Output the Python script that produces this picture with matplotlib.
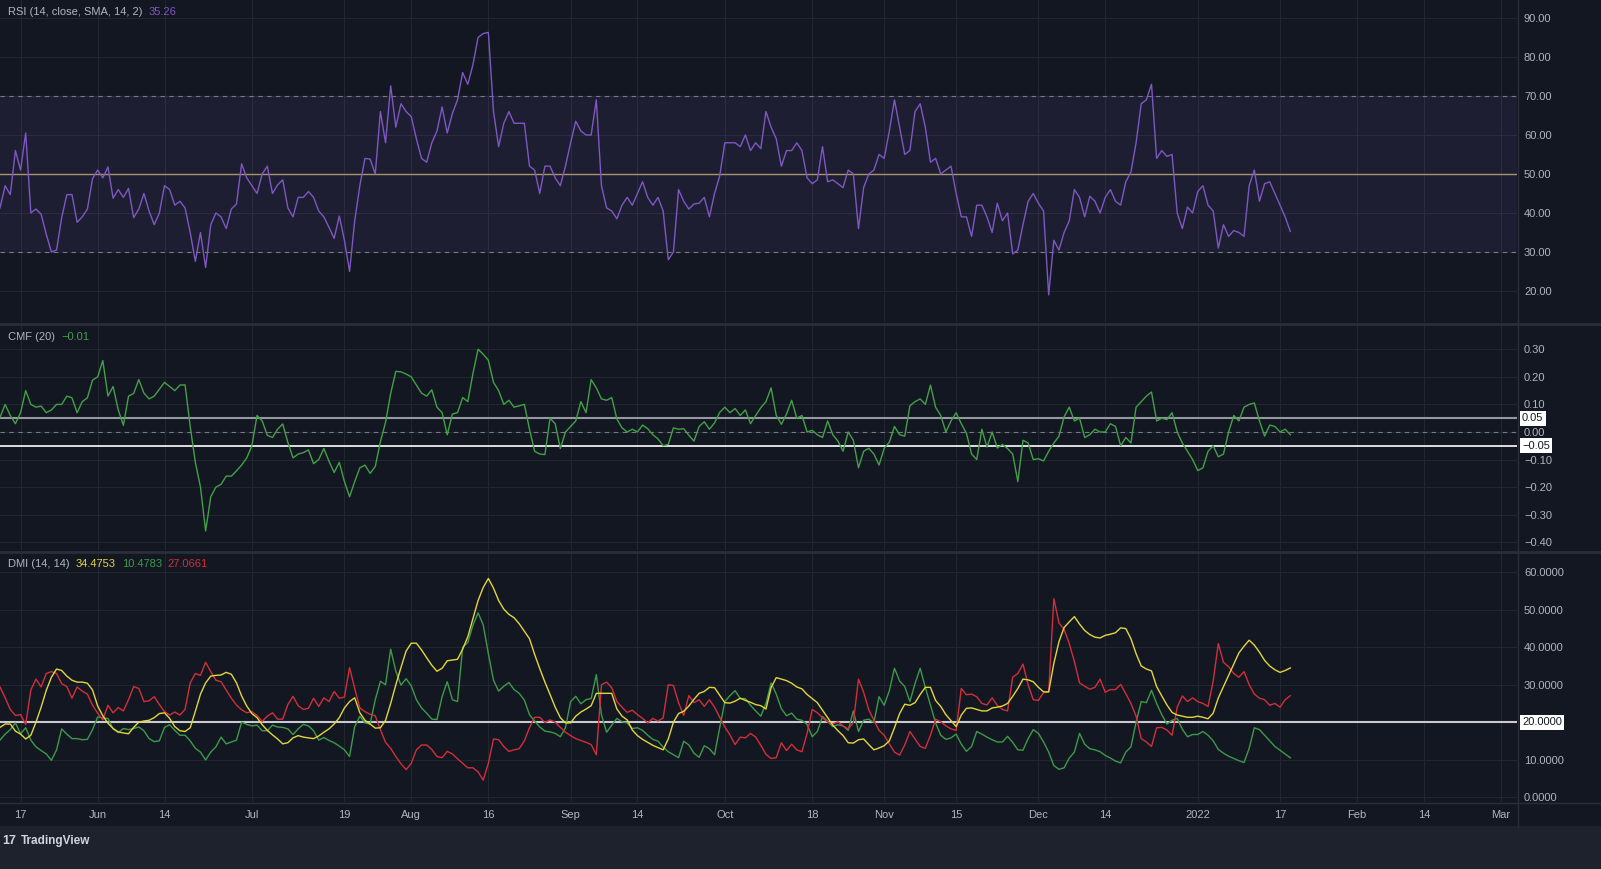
import matplotlib
matplotlib.use("Agg")
import matplotlib.pyplot as plt
import matplotlib.dates as mdates
import matplotlib.transforms as mtransforms
from matplotlib.lines import Line2D
from matplotlib.patches import Rectangle
from matplotlib.ticker import FixedLocator, FuncFormatter
import pandas as pd

plt.rcParams['font.family'] = ['Liberation Sans', 'DejaVu Sans']

# daily values, 2021-05-13 .. 2022-01-19
dates = pd.date_range("2021-05-13", periods=252, freq="D")

rsi = [41.3, 47, 44.7, 56, 51, 60.5, 40, 41, 39.7, 34.5,
       30, 30.5, 38.8, 44.7, 44.7, 37.6, 39, 41, 48.8, 51,
       49, 51.8, 43.8, 46, 44, 46.3, 38.8, 41, 45, 40.5,
       37, 40, 47, 46, 42, 43, 41.3, 35, 27.6, 35,
       26, 37, 40, 39, 36, 41, 42.3, 52.6, 49, 47,
       45, 50, 52, 45, 47.2, 48.5, 41.3, 39, 44, 44,
       45.5, 44, 40.5, 39, 36.3, 33.5, 39.2, 33, 25, 38,
       47, 54, 53.8, 50, 66, 58, 72.6, 62, 68, 66,
       64.7, 59, 54, 53, 58, 61, 67.2, 60.5, 65.5, 69,
       76, 73, 78, 85, 86, 86.3, 66, 57, 63, 66,
       63, 63, 63, 52, 51, 45, 52, 52, 49, 47,
       52, 58, 63.5, 61, 60, 60, 69, 47, 41.3, 40.5, 38.5, 42,
       44, 42, 45, 48, 44, 42, 44, 40.5, 28, 30,
       46, 43, 41, 42.3, 42.5, 44, 39, 45, 49.5, 58,
       58, 58, 57, 60, 56, 58, 56.5, 66, 62, 59,
       52, 56, 56, 58, 56, 49, 47.5, 48.5, 57, 48,
       48.5, 47.5, 46.5, 51, 50, 36, 46.5, 50, 51, 55,
       54, 61, 69, 62, 55, 56, 66, 68, 62, 53,
       54, 50, 51, 52, 45, 39, 39, 34, 42, 42,
       39, 35, 42.5, 38, 40, 29.5, 30.5, 37, 43, 45,
       42.5, 40.5, 19, 33, 30.5, 35, 38, 46, 44, 39,
       44.3, 43, 40, 44, 46, 43, 42, 48, 50.5, 58,
       68, 69, 73, 54, 56, 54.5, 55, 40, 36, 41.5,
       40, 45.5, 47, 42, 40.5, 31, 37, 34, 35.5, 35,
       34, 47, 51, 43, 47.5, 48,
       45, 42, 39, 35.26]

cmf = [0.053, 0.10, 0.06, 0.03, 0.07, 0.15, 0.10, 0.09, 0.094, 0.07,
       0.08, 0.10, 0.10, 0.13, 0.124, 0.07, 0.11, 0.124, 0.188, 0.20,
       0.259, 0.13, 0.165, 0.08, 0.024, 0.13, 0.14, 0.19, 0.141, 0.12,
       0.13, 0.155, 0.18, 0.165, 0.15, 0.17, 0.171, 0.02, -0.11, -0.20,
       -0.359, -0.235, -0.20, -0.19, -0.16, -0.16, -0.141, -0.12, -0.094, -0.05,
       0.06, 0.04, -0.012, -0.02, 0.01, 0.029, -0.038, -0.094, -0.08, -0.075,
       -0.065, -0.115, -0.10, -0.06, -0.106, -0.147, -0.11, -0.18, -0.235, -0.18,
       -0.13, -0.12, -0.15, -0.125, -0.035, 0.035, 0.14, 0.22, 0.218, 0.21,
       0.20, 0.17, 0.141, 0.13, 0.153, 0.09, 0.07, -0.01, 0.065, 0.07,
       0.125, 0.11, 0.212, 0.30, 0.282, 0.26, 0.18, 0.15, 0.10, 0.115,
       0.09, 0.095, 0.10, 0.01, -0.07, -0.08, -0.082, 0.05, 0.03, -0.06,
       0.0, 0.02, 0.04, 0.11, 0.07, 0.19, 0.16, 0.12, 0.115, 0.125, 0.047, 0.015,
       0.0, 0.01, 0.0, 0.025, 0.012, -0.01, -0.025, -0.05, -0.045, 0.015,
       0.01, 0.012, -0.012, -0.033, 0.02, 0.037, 0.01, 0.033, 0.071, 0.09,
       0.07, 0.085, 0.06, 0.08, 0.03, 0.06, 0.088, 0.11, 0.16, 0.06,
       0.028, 0.065, 0.115, 0.05, 0.06, 0.0, 0.006, -0.01, -0.02, 0.04,
       -0.01, -0.033, -0.07, 0.0, -0.03, -0.13, -0.07, -0.059, -0.08, -0.12,
       -0.059, -0.037, 0.02, -0.01, -0.015, 0.095, 0.11, 0.12, 0.10, 0.17,
       0.09, 0.06, 0.0, 0.04, 0.07, 0.03, -0.005, -0.08, -0.10, 0.01,
       -0.055, 0.0, -0.058, -0.045, -0.06, -0.08, -0.18, -0.03, -0.04, -0.10,
       -0.097, -0.105, -0.07, -0.04, -0.015, 0.055, 0.09, 0.04, 0.05, -0.02,
       -0.01, 0.01, 0.0, 0.0, 0.03, 0.02, -0.05, -0.02, -0.04, 0.09,
       0.11, 0.13, 0.145, 0.04, 0.05, 0.045, 0.07, 0.0, -0.04, -0.07,
       -0.10, -0.14, -0.13, -0.07, -0.05, -0.09, -0.08, 0.0, 0.06, 0.04,
       0.09, 0.10, 0.105, 0.04, -0.015, 0.025, 0.02, 0.0, 0.01, -0.01]

adx = [18.6, 19.5, 19.5, 17.6, 16.8, 15.5, 16.5, 20, 24, 28.5,
       32, 34.2, 33.8, 32.3, 31.2, 30.7, 30.7, 30.4, 28.6, 24.3,
       21.7, 19.7, 18.3, 17.4, 17.1, 16.9, 18.6, 20, 20.3, 20.5,
       21.2, 22.3, 22.5, 21, 18.8, 17.7, 17.5, 18.5, 22.9, 27.5,
       30.5, 32.3, 32.5, 32.6, 33.3, 32.8, 30.5, 27, 24.3, 22.3,
       21.2, 19.3, 17.8, 16.6, 15.5, 14.2, 14.5, 15.8, 16.4, 16,
       15.8, 15.6, 16.3, 17.3, 18.2, 19.5, 21.2, 23.8, 25.5, 26.5,
       22.5, 20.5, 19.5, 18.4, 18.5, 20.5, 25, 30, 34.6, 39,
       41.1, 41.1, 39.3, 37.2, 35.2, 33.6, 34.4, 36.4, 36.6, 36.8,
       39.5, 42.8, 47.6, 52.5, 56, 58.4, 55.8, 52.5, 50.2, 48.8,
       47.9, 46.3, 44.3, 42.3, 38.1, 34.3, 30.7, 27.4, 24, 21.2,
       19.8, 19.8, 21.6, 22.7, 23.5, 24.4, 27.7, 27.7, 27.7, 27.7, 23.5, 21.6,
       20.6, 17.9, 16.4, 15.4, 14.6, 13.8, 13.2, 12.6, 15.5, 20,
       22.3, 22.9, 24.3, 26.1, 27.7, 28.2, 29.3, 29.2, 27.2, 25.2,
       25.1, 25.6, 26.4, 25.8, 25.3, 24.7, 24.4, 23.5, 29.2, 31.9,
       31.5, 31.1, 30.4, 29.4, 28.9, 27.4, 26.3, 25.2, 23.2, 21.2,
       19.2, 17.7, 16.4, 14.5, 14.4, 15.3, 15.5, 14, 12.6, 13.1,
       13.7, 15, 18.5, 22.3, 24.8, 24.5, 25.2, 27.4, 29.3, 29.3,
       25.8, 24.2, 22, 20.4, 18.8, 21.9, 23.7, 23.8, 23.4, 23,
       23, 23.8, 24, 24.3, 25, 26.9, 29, 31.5, 31.3, 30.8,
       29.3, 28.1, 28.1, 35.7, 41.5, 45.3, 46.8, 48.2, 46.2, 44.5,
       43.4, 42.7, 42.5, 43.2, 43.5, 43.9, 45.2, 45, 42.3, 38.3,
       35, 34.2, 33.7, 29.5, 27, 24.6, 22.6, 21.9, 21.6, 21.3,
       21.3, 21.6, 21.3, 20.9, 22.4, 26.5, 29.5, 32.5, 35.5, 38.5,
       40.3, 41.9, 40.6, 38.7, 36.5, 35, 34, 33.3, 33.8, 34.4753]

plus_di = [15.2, 16.8, 18, 19.8, 16.9, 18.5, 15.2, 13.4, 12.4, 11.5,
           9.8, 12.6, 18.2, 16.8, 15.6, 15.6, 15.3, 15.4, 18, 21.4,
           21.1, 21, 18.2, 17.2, 18.3, 18, 18.3, 18.7, 17.7, 15.6,
           14.8, 15, 18.6, 19.3, 17.8, 16.5, 16.5, 15, 13, 12,
           9.9, 12, 13.4, 16, 14.2, 14.7, 15.2, 20, 19.4, 19,
           19.2, 17.7, 17.7, 19.2, 18.7, 18.6, 18.2, 16.7, 18.2, 19.4,
           19, 17.7, 15.2, 15.9, 15.1, 14.5, 13.6, 12.6, 10.8, 18.8,
           21.6, 19.8, 19.5, 26, 30.9, 30, 39.5, 33.6, 29.9, 31.6,
           29.7, 26, 23.8, 22.4, 20.8, 20.7, 26.8, 30.8, 26, 25.5,
           40, 41.3, 45.9, 49.2, 46, 38.3, 31.2, 28.3, 29.6, 30.6,
           28.7, 27.7, 25.9, 22, 20.3, 18.7, 17.6, 17.4, 17, 16.1,
           18.5, 25.5, 26.9, 24.9, 26, 26.3, 32.7, 22, 17.3, 19.2, 21, 20.1,
           19.8, 18.3, 18.5, 17.8, 16.5, 15.4, 14.9, 13.3, 12.1, 11.3,
           10.5, 14.9, 13.9, 11.7, 10.6, 13.7, 12.9, 11.3, 18.5, 25.5,
           27.1, 28.4, 26.3, 26.3, 24.5, 23, 21.6, 25, 30.5, 27.5,
           23.6, 21.7, 22.4, 20.8, 20.5, 19.4, 16.1, 17.5, 21.5, 20.2,
           18.8, 19.3, 19, 17.8, 23, 17.5, 20.5, 20.8, 19.9, 26.8,
           24.5, 28.4, 34.4, 31, 29.5, 25.5, 30.3, 34.4, 29.3, 24.5,
           19.8, 16.5, 15.4, 15.8, 16.8, 14.1, 12.2, 13.5, 17.5, 16.8,
           16, 15.3, 14.7, 14.7, 16.2, 14.6, 12.6, 12.5, 15.6, 18,
           17, 14.7, 12, 8.4, 7.4, 7.8, 10.4, 12, 17, 14.1,
           12.9, 12.6, 12.1, 11.1, 10.4, 9.6, 9.1, 12, 13.4, 20,
           25.5, 25.2, 28.5, 25, 22, 19.5, 20.5, 21, 18.1, 16.1,
           16.7, 16.7, 17.5, 16.5, 15, 12.7, 11.7, 10.9, 10.3, 9.7,
           9.2, 13, 18.5, 18, 16.5, 15, 13.5, 12.5, 11.5, 10.4783]

minus_di = [29.4, 26.5, 23.4, 21.8, 22, 19.4, 28.6, 31.5, 29.4, 33,
            33.5, 33, 30.3, 29.5, 26.4, 29.4, 28.3, 27.5, 24.5, 22.4,
            20.6, 24.5, 22.5, 23.9, 23, 26, 29.5, 29, 25.5, 25.7,
            26.8, 24.7, 22.8, 21.9, 22.7, 21.9, 23.4, 30.5, 33, 32.5,
            36, 33.5, 31.2, 30.8, 28.6, 26.4, 24.6, 23.3, 22.5, 22.8,
            21.8, 20.2, 21.6, 22.5, 20.8, 20.8, 24.7, 26.9, 24.4, 23.4,
            23.7, 26.4, 24.2, 26.5, 25.5, 28.2, 26.4, 26.7, 34.6, 29,
            23.8, 22.8, 22.1, 21.7, 18, 14.6, 13, 10.8, 8.9, 7.3,
            9, 12.6, 13.9, 13.9, 12.7, 10.8, 10.5, 12.2, 11.5, 10.2,
            9, 7.8, 7.8, 6.7, 4.5, 9, 15.5, 15.3, 13.5, 12.2,
            12.6, 12.9, 15, 18.5, 21.3, 21.3, 19.9, 20.6, 20, 18.6,
            17.3, 16.4, 15.6, 15.1, 14.6, 14, 11.3, 30, 30.7, 29.2, 25.5, 24,
            22.6, 23.2, 22, 21, 19.8, 21, 20.3, 21.1, 30, 29.8,
            25.2, 21.8, 27.1, 25.2, 26, 24.2, 26, 24, 21.3, 18.7,
            16.6, 14, 16, 15.8, 17, 16, 13.8, 11.4, 10.3, 10.5,
            14.5, 12.4, 14.1, 12.6, 12.1, 17, 23.4, 22.5, 21.2, 20,
            19.5, 20.1, 19, 18.2, 19.9, 31.5, 28, 23.3, 20.5, 17.8,
            16.5, 14.2, 12, 11.2, 13.9, 17.5, 15.5, 13.5, 13, 16.5,
            20.8, 20.1, 19, 18.2, 17.8, 29, 27.3, 27.5, 26.8, 25,
            24.6, 26.5, 24.5, 23.4, 23, 32, 33, 35.5, 30, 26,
            25.8, 27.9, 28, 53, 46.5, 44.8, 41, 36.2, 30.5, 29.6,
            28.8, 29.3, 31.5, 28, 28.7, 28.7, 30.1, 27.6, 25, 21.6,
            15.6, 14.7, 13.5, 18.5, 18.6, 17.9, 16.5, 24, 27, 25.5,
            26.5, 25.5, 25, 24.2, 31, 41, 36, 34.8, 33, 32,
            33.5, 30, 27.5, 26.4, 26, 24.5, 25, 24, 26, 27.0661]

tick_dates = ["2021-05-17", "2021-06-01", "2021-06-14", "2021-07-01", "2021-07-19",
              "2021-08-01", "2021-08-16", "2021-09-01", "2021-09-14", "2021-10-01",
              "2021-10-18", "2021-11-01", "2021-11-15", "2021-12-01", "2021-12-14",
              "2022-01-01", "2022-01-17", "2022-02-01", "2022-02-14", "2022-03-01"]
tick_labels = ["17", "Jun", "14", "Jul", "19", "Aug", "16", "Sep", "14", "Oct",
               "18", "Nov", "15", "Dec", "14", "2022", "17", "Feb", "14", "Mar"]

BG = "#131722"
GRID = "#22262f"
TXT = "#b2b5be"
W, H = 1601, 869

fig = plt.figure(figsize=(W / 100, H / 100), dpi=100, facecolor=BG)


def pane(top, bottom):
    return fig.add_axes([0, 1 - bottom / H, 1517 / W, (bottom - top) / H], facecolor=BG)


ax1 = pane(0, 322)
ax2 = pane(325, 550)
ax3 = pane(553, 802)

x0 = pd.Timestamp("2021-05-13")
x1 = x0 + pd.Timedelta(days=295.1)
tick_pos = mdates.date2num(pd.to_datetime(tick_dates))


def minus(fmt):
    return FuncFormatter(lambda v, p: (fmt % v).replace("-", "\u2212"))


for ax in (ax1, ax2, ax3):
    ax.set_xlim(x0, x1)
    for s in ax.spines.values():
        s.set_visible(False)
    ax.yaxis.tick_right()
    ax.tick_params(axis="y", length=0, pad=5, labelcolor=TXT, labelsize=8)
    ax.xaxis.set_major_locator(FixedLocator(tick_pos))
    ax.grid(True, color=GRID, lw=0.8)
    ax.set_axisbelow(True)
    ax.tick_params(axis="x", length=0)
    if ax is not ax3:
        ax.set_xticklabels([])

ax3.set_xticklabels(tick_labels)
ax3.tick_params(axis="x", pad=6, labelcolor=TXT, labelsize=8)

# RSI
ax1.set_ylim(12.05, 94.6)
ax1.set_yticks(range(20, 91, 10))
ax1.yaxis.set_major_formatter(minus("%.2f"))
ax1.axhspan(30, 70, color="#7e57c2", alpha=0.11, lw=0)
ax1.axhline(70, color="#787b86", lw=0.8, ls=(0, (4, 4)))
ax1.axhline(30, color="#787b86", lw=0.8, ls=(0, (4, 4)))
ax1.axhline(50, color="#a8946a", lw=1.0)
ax1.plot(dates, rsi, color="#7e57c2", lw=1.0)

# CMF
ax2.set_ylim(-0.428, 0.388)
ax2.set_yticks([0.3, 0.2, 0.1, 0.0, -0.1, -0.2, -0.3, -0.4])
ax2.yaxis.set_major_formatter(minus("%.2f"))
ax2.axhline(0, color="#787b86", lw=0.8, ls=(0, (4, 4)))
ax2.axhline(0.05, color="#9598a1", lw=1.5)
ax2.axhline(-0.05, color="white", lw=1.2)
ax2.plot(dates, cmf, color="#43a047", lw=1.0)

# DMI
ax3.set_ylim(-1.34, 65.2)
ax3.set_yticks(range(0, 61, 10))
ax3.yaxis.set_major_formatter(minus("%.4f"))
ax3.axhline(20, color="#c8cad0", lw=1.5)
ax3.plot(dates, plus_di, color="#3c9a48", lw=1.0)
ax3.plot(dates, minus_di, color="#d12f3a", lw=1.0)
ax3.plot(dates, adx, color="#e3d63c", lw=1.0)


def value_tag(ax, y, label):
    tr = mtransforms.blended_transform_factory(ax.transAxes, ax.transData)
    ax.text(1.0 + 5 / 1517, y, label, transform=tr, ha="left", va="center",
            fontsize=8, color=BG, clip_on=False,
            bbox=dict(boxstyle="square,pad=0.22", fc="white", ec="none"))


value_tag(ax2, 0.05, "0.05")
value_tag(ax2, -0.05, "\u22120.05")
value_tag(ax3, 20, "20.0000")

# frame lines
SEP = "#2a2e39"
for y in (323.5, 551.5):
    fig.add_artist(Line2D([0, 1], [1 - y / H, 1 - y / H], color=SEP, lw=2))
fig.add_artist(Line2D([0, 1], [1 - 802.5 / H] * 2, color=SEP, lw=1))
fig.add_artist(Line2D([1517.5 / W] * 2, [1 - 826 / H, 1], color=SEP, lw=1))
fig.add_artist(Rectangle((0, 0), 1, 43 / H, transform=fig.transFigure,
                         facecolor="#1e222d", edgecolor="none"))

# pane legends
fig.canvas.draw()
renderer = fig.canvas.get_renderer()


def legend_row(y, parts):
    x = 8
    for txt, col in parts:
        t = fig.text(x / W, 1 - y / H, txt, color=col, fontsize=8, va="center", ha="left")
        x += t.get_window_extent(renderer).width + 6


legend_row(12, [("RSI (14, close, SMA, 14, 2)", TXT), ("35.26", "#7e57c2")])
legend_row(337, [("CMF (20)", TXT), ("\u22120.01", "#43a047")])
legend_row(564, [("DMI (14, 14)", TXT), ("34.4753", "#e3d63c"),
                 ("10.4783", "#3c9a48"), ("27.0661", "#d12f3a")])

fig.text(2 / W, 1 - 841 / H, "17", color="#d1d4dc", fontsize=9, fontweight="bold",
         va="center", ha="left")
fig.text(21 / W, 1 - 841 / H, "TradingView", color="#d1d4dc", fontsize=8.5,
         fontweight="bold", va="center", ha="left")

fig.savefig("out.png", dpi=100, facecolor=BG)
